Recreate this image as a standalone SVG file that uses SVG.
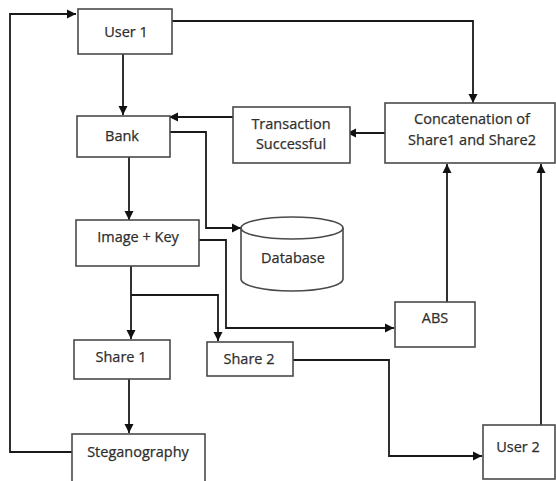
<svg xmlns="http://www.w3.org/2000/svg" width="556" height="481" viewBox="0 0 556 481">
<defs>
<marker id="ah" markerWidth="10" markerHeight="10" refX="9" refY="5" orient="auto" markerUnits="userSpaceOnUse">
<path d="M0,0.5 L9,5 L0,9.5 Z" fill="#111"/>
</marker>
<style>
.box{fill:#fff;stroke:#4a4a4a;stroke-width:1.6}
.lbl{font-family:"Open Sans","Liberation Sans",sans-serif;font-size:14.5px;fill:#2e2e2e;stroke:#2e2e2e;stroke-width:0.25;text-anchor:middle}
.cn{fill:none;stroke:#1a1a1a;stroke-width:1.8;marker-end:url(#ah)}
</style>
</defs>
<rect width="556" height="481" fill="#fff"/>
<g id="connectors">
<path class="cn" d="M72,452 H10 V14 H76"/>
<path class="cn" d="M172,21 H473 V103"/>
<path class="cn" d="M123,54 V115"/>
<path class="cn" d="M233,117 H169"/>
<path class="cn" d="M385,133 H347"/>
<path class="cn" d="M167,132 H206 V228 H241"/>
<path class="cn" d="M129,157 V220"/>
<path class="cn" d="M199,240 H226 V328 H394"/>
<path class="cn" d="M131,266 V339"/>
<path class="cn" d="M131,295 H218 V341"/>
<path class="cn" d="M129,379 V433"/>
<path class="cn" d="M293,360 H389 V456 H482"/>
<path class="cn" d="M447,302 V164"/>
<path class="cn" d="M541,425 V164"/>
</g>
<g id="user1"><rect class="box" x="78" y="9" width="94" height="45"/><text class="lbl" x="126" y="37">User  1</text></g>
<g id="bank"><rect class="box" x="77" y="116" width="93" height="41"/><text class="lbl" x="122" y="141">Bank</text></g>
<g id="transaction"><rect class="box" x="233" y="107" width="117" height="56"/><text class="lbl" x="291" y="129">Transaction</text><text class="lbl" x="291" y="149">Successful</text></g>
<g id="concat"><rect class="box" x="385" y="103" width="170" height="60"/><text class="lbl" x="472" y="124">Concatenation of</text><text class="lbl" x="472" y="145">Share1 and Share2</text></g>
<g id="imagekey"><rect class="box" x="76" y="220" width="123" height="46"/><text class="lbl" x="138" y="242">Image + Key</text></g>
<g id="database"><path class="box" d="M241,228 V279 A51,12 0 0 0 343,279 V228"/><ellipse class="box" cx="292" cy="228" rx="51" ry="11"/><text class="lbl" x="293" y="263">Database</text></g>
<g id="abs"><rect class="box" x="395" y="302" width="80" height="45"/><text class="lbl" x="435" y="323">ABS</text></g>
<g id="share1"><rect class="box" x="74" y="340" width="96" height="39"/><text class="lbl" x="121" y="362">Share 1</text></g>
<g id="share2"><rect class="box" x="207" y="342" width="86" height="34"/><text class="lbl" x="249" y="364">Share 2</text></g>
<g id="steganography"><rect class="box" x="72" y="434" width="133" height="56"/><text class="lbl" x="138" y="457">Steganography</text></g>
<g id="user2"><rect class="box" x="483" y="425" width="72" height="54"/><text class="lbl" x="518" y="452">User 2</text></g>
</svg>
